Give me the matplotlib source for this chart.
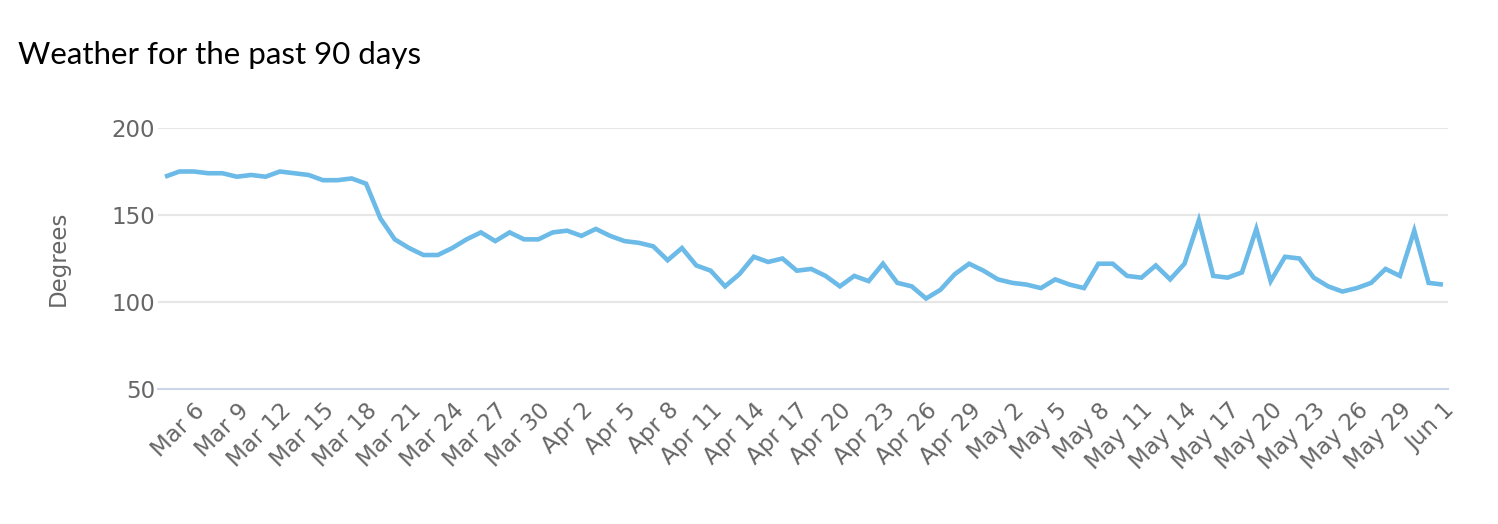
import matplotlib
matplotlib.use("Agg")
import matplotlib.pyplot as plt
import pandas as pd

start_date = "2024-03-04"
values = [172, 175, 175, 174, 174, 172, 173, 172, 175, 174,
          173, 170, 170, 171, 168, 148, 136, 131, 127, 127,
          131, 136, 140, 135, 140, 136, 136, 140, 141, 138,
          142, 138, 135, 134, 132, 124, 131, 121, 118, 109,
          116, 126, 123, 125, 118, 119, 115, 109, 115, 112,
          122, 111, 109, 102, 107, 116, 122, 118, 113, 111,
          110, 108, 113, 110, 108, 122, 122, 115, 114, 121,
          113, 122, 147, 115, 114, 117, 142, 112, 126, 125,
          114, 109, 106, 108, 111, 119, 115, 141, 111, 110]
title = "Weather for the past 90 days"
y_label = "Degrees"
y_ticks = [50, 100, 150, 200]
label_step = 3
label_offset = 2

dates = pd.date_range(start_date, periods=len(values), freq="D")
x = list(range(len(values)))
tick_idx = list(range(label_offset, len(values), label_step))
tick_labels = [f"{dates[i].strftime('%b')} {dates[i].day}" for i in tick_idx]

fig = plt.figure(figsize=(14.98, 5.24), dpi=100)
ax = fig.add_axes([158 / 1498, 1 - 389 / 524, 1290 / 1498, 261 / 524])

ax.plot(x, values, color="#6CBAE7", linewidth=3.3, solid_joinstyle="miter",
        solid_capstyle="butt", zorder=3)

ax.set_ylim(50, 200)
ax.set_xlim(-0.49, len(values) - 1 + 0.35)
ax.set_yticks(y_ticks)
ax.set_yticklabels([str(v) for v in y_ticks])
ax.set_xticks(tick_idx)
ax.set_xticklabels(tick_labels, rotation=45, ha="right", rotation_mode="anchor")

for v in y_ticks[1:]:
    ax.axhline(v, color="#e6e6e6", linewidth=1.5, zorder=1)

for s in ["top", "right", "left"]:
    ax.spines[s].set_visible(False)
ax.spines["bottom"].set_color("#ccd6eb")
ax.spines["bottom"].set_linewidth(1.5)

ax.tick_params(axis="both", length=0, colors="#666666", labelsize=16.5)
ax.tick_params(axis="y", pad=2)
ax.tick_params(axis="x", pad=7)

fig.text(58 / 1498, 1 - 258 / 524, y_label, fontsize=16.5, color="#666666",
         rotation=90, ha="center", va="center")

fig.text(18 / 1498, 1 - 55 / 524, title, fontsize=22.5, family="Lato",
         color="#000000", ha="left", va="center")

fig.savefig("out.png", dpi=100)
